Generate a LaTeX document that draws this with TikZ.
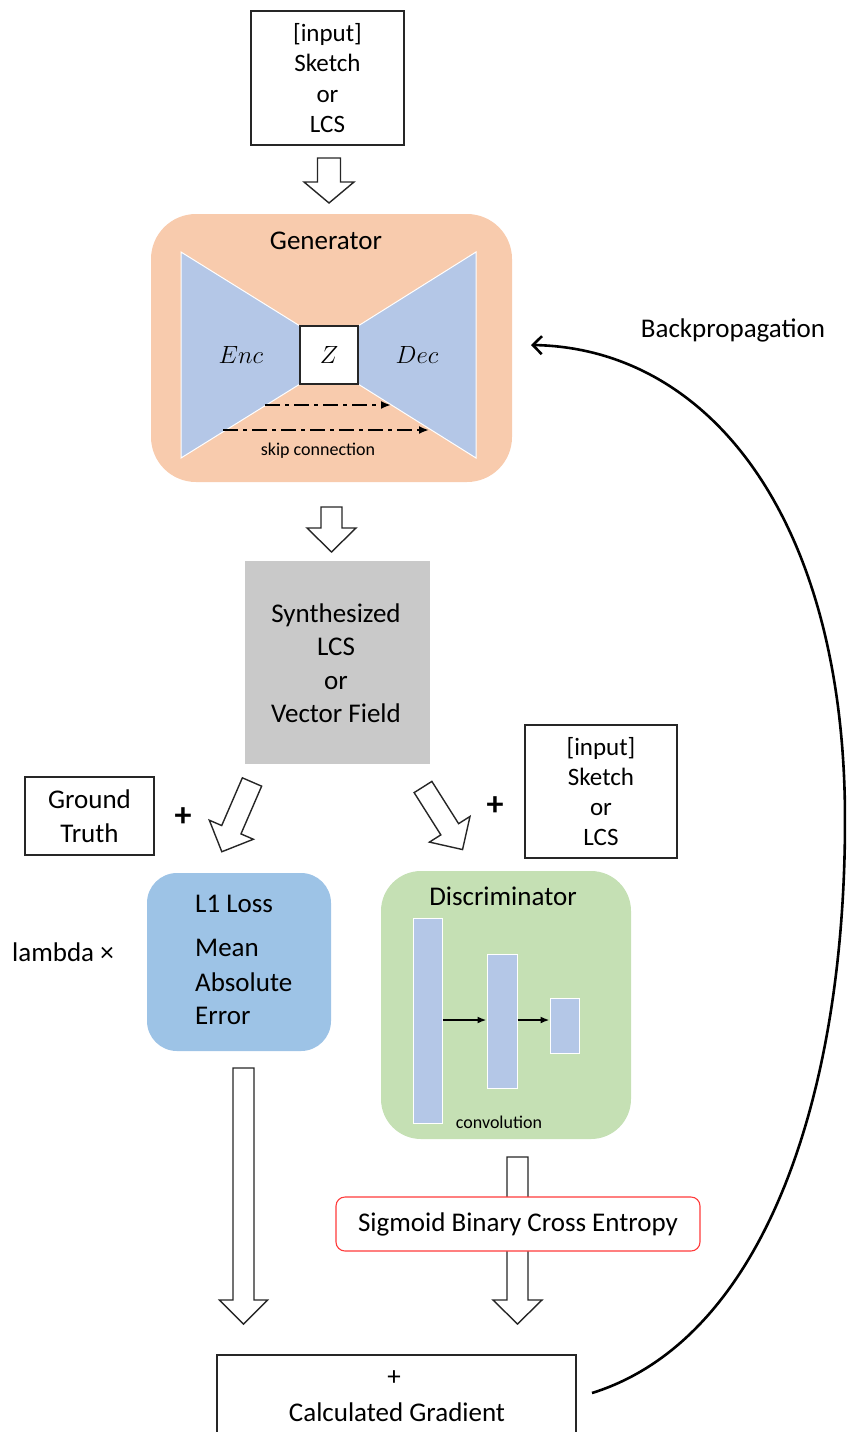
\documentclass[tikz,border=0pt]{standalone}
\usepackage{fontspec}
\setmainfont{Carlito}
\usetikzlibrary{arrows.meta}
\definecolor{peach}{HTML}{F8CBAD}
\definecolor{lblue}{HTML}{B4C7E7}
\definecolor{lossblue}{HTML}{9DC3E6}
\definecolor{lgreen}{HTML}{C5E0B4}
\definecolor{synthgray}{HTML}{C9C9C9}
\definecolor{sigred}{HTML}{FF3B3B}
\newcommand\blockarr[7]{%
  \draw[blockarrow, shift={(#1,#2)}, rotate=#3]
    (0,-#5) -- (#4-#7,-#5) -- (#4-#7,-#6) -- (#4,0) -- (#4-#7,#6) -- (#4-#7,#5) -- (0,#5) -- cycle;}
\tikzset{
  blockarrow/.style={draw=black!85, fill=white, line width=1.4pt, line join=miter},
  plainbox/.style={draw=black!85, line width=1.2pt, fill=white, inner sep=0pt, align=center},
  bigtxt/.style={font=\fontsize{27}{33.5}\selectfont, inner sep=0pt, align=center},
  midtxt/.style={font=\fontsize{25}{30.3}\selectfont, inner sep=0pt, align=center},
  smalltxt/.style={font=\fontsize{18}{22}\selectfont, inner sep=0pt},
  mathtxt/.style={font=\fontsize{27}{30}\selectfont, inner sep=0pt},
  plustxt/.style={font=\bfseries\fontsize{34}{34}\selectfont, inner sep=0pt},
  trap/.style={fill=lblue, draw=white, line width=1pt},
  bar/.style={fill=lblue, draw=white, line width=1pt, inner sep=0pt},
}
\begin{document}
\begin{tikzpicture}[x=1pt, y=-1pt]
\useasboundingbox (0,0) rectangle (846,1432);
\clip (0,0) rectangle (846,1432);

% top input box
\node[plainbox, midtxt, minimum width=153, minimum height=134] (inp) at (327.5,78) {[input]\\Sketch\\or\\LCS};
\blockarr{329}{158}{-90}{45}{11.5}{25}{21}

% generator
\node[fill=peach, rounded corners=45pt, minimum width=361, minimum height=268, inner sep=0pt] (gen) at (331.5,348) {};
\node[bigtxt] (gentxt) at (326,241) {Generator};
\draw[trap] (181,252) -- (300,326) -- (300,384) -- (181,458) -- cycle;
\draw[trap] (358,326) -- (476,252) -- (476,458) -- (358,384) -- cycle;
\node[plainbox, minimum width=58, minimum height=58] (z) at (329,355) {};
\node[mathtxt] (ztxt) at (329,355) {$Z$};
\node[mathtxt] (enc) at (241,355) {$Enc$};
\node[mathtxt] (dec) at (417,355) {$Dec$};
\coordinate (s1a) at (265,405); \coordinate (s1b) at (391,405);
\coordinate (s2a) at (223,430); \coordinate (s2b) at (429,430);
\draw[line width=2.4pt, dash pattern=on 15pt off 5pt on 4pt off 5pt, -{Latex[length=10pt,width=8pt]}] (s1a) -- (s1b);
\draw[line width=2.4pt, dash pattern=on 15pt off 5pt on 4pt off 5pt, -{Latex[length=10pt,width=8pt]}] (s2a) -- (s2b);
\node[smalltxt] (skip) at (318,451) {skip connection};

\blockarr{331.5}{507}{-90}{45}{10.5}{24.5}{24}

% synthesized
\node[fill=synthgray, minimum width=185, minimum height=203, inner sep=0pt] (syn) at (337.5,662.5) {};
\node[bigtxt] (syntxt) at (336,663) {Synthesized\\LCS\\or\\Vector Field};

% ground truth and right input
\node[plainbox, bigtxt, minimum width=129, minimum height=78] (gt) at (89.5,816) {Ground\\Truth};
\node[plustxt] (plus1) at (183,817) {+};
\blockarr{252}{782}{-113.4}{76}{10.5}{24}{24}
\blockarr{423}{787}{-57.7}{74}{10.5}{24}{24}
\node[plustxt] (plus2) at (495,806) {+};
\node[plainbox, midtxt, minimum width=152, minimum height=133] (inp2) at (601,791.5) {[input]\\Sketch\\or\\LCS};

% L1 loss
\node[fill=lossblue, rounded corners=30pt, minimum width=184, minimum height=178, inner sep=0pt] (l1) at (239,962) {};
\node[bigtxt, anchor=west] (l1a) at (195,904) {L1 Loss};
\node[bigtxt, anchor=west] (l1b) at (195,948) {Mean};
\node[bigtxt, anchor=west] (l1c) at (195,982) {Absolute};
\node[bigtxt, anchor=west] (l1d) at (195,1016) {Error};
\node[bigtxt, anchor=west] (lam) at (12,952) {lambda ×};

% discriminator
\node[fill=lgreen, rounded corners=40pt, minimum width=250, minimum height=268, inner sep=0pt] (disc) at (506,1005) {};
\node[bigtxt] (disctxt) at (503,896) {Discriminator};
\node[bar, minimum width=29, minimum height=205] (b1) at (427.5,1020.5) {};
\node[bar, minimum width=30, minimum height=134] (b2) at (502,1021) {};
\node[bar, minimum width=29, minimum height=55] (b3) at (564.5,1025.5) {};
\draw[line width=1.8pt, -{Latex[length=9pt,width=7pt]}] (b1.east |- 0,1020) -- (b2.west |- 0,1020);
\draw[line width=1.8pt, -{Latex[length=9pt,width=7pt]}] (b2.east |- 0,1020) -- (b3.west |- 0,1020);
\node[smalltxt] (conv) at (499,1122) {convolution};

% long arrows
\blockarr{243.5}{1068}{-90}{256}{10.5}{24}{24}
\blockarr{517.5}{1157}{-90}{167}{10.5}{24.5}{24}
\node[draw=sigred, line width=1.1pt, fill=white, rounded corners=9pt, minimum width=364, minimum height=54, inner sep=0pt, bigtxt] (sig) at (518,1224) {Sigmoid Binary Cross Entropy};

% calculated gradient
\node[plainbox, minimum width=359, minimum height=90] (calc) at (396.5,1400) {};
\node[bigtxt] (calcplus) at (394,1378) {+};
\node[bigtxt] (calctxt) at (397,1412) {Calculated Gradient};

% backpropagation
\coordinate (bpstart) at (592,1393);
\coordinate (bpmid) at (845,820);
\coordinate (bpend) at (531,345);
\draw[line width=2.6pt, -{Straight Barb[length=9pt,width=18pt]}] (bpstart) .. controls (762,1340) and (845,1100) .. (bpmid) .. controls (845,520) and (710,348) .. (bpend);
\node[bigtxt] (bptxt) at (733,330) {Backpropagation};
\end{tikzpicture}
\end{document}
